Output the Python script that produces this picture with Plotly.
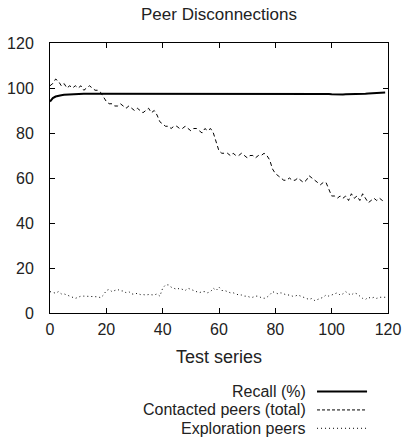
import plotly.graph_objects as go

test_series = list(range(120))

recall = [94.0, 95.5, 96.2, 96.6, 96.8, 97.0, 97.1, 97.2, 97.2, 97.3,
          97.3, 97.3, 97.4, 97.4, 97.4, 97.5, 97.5, 97.5, 97.5, 97.5,
          97.5, 97.5, 97.5, 97.5, 97.5, 97.5, 97.5, 97.5, 97.5, 97.5,
          97.5, 97.5, 97.5, 97.5, 97.5, 97.5, 97.5, 97.5, 97.5, 97.5,
          97.6, 97.6, 97.6, 97.6, 97.6, 97.6, 97.6, 97.6, 97.6, 97.6,
          97.6, 97.6, 97.6, 97.6, 97.6, 97.6, 97.6, 97.6, 97.5, 97.5,
          97.5, 97.5, 97.5, 97.5, 97.5, 97.5, 97.5, 97.5, 97.5, 97.5,
          97.5, 97.5, 97.5, 97.5, 97.5, 97.5, 97.5, 97.5, 97.5, 97.5,
          97.6, 97.6, 97.6, 97.6, 97.6, 97.6, 97.6, 97.6, 97.6, 97.6,
          97.6, 97.6, 97.6, 97.6, 97.6, 97.6, 97.5, 97.5, 97.4, 97.3,
          97.2, 97.1, 97.1, 97.1, 97.1, 97.2, 97.2, 97.2, 97.3, 97.3,
          97.4, 97.5, 97.5, 97.6, 97.7, 97.8, 97.8, 97.9, 98.0, 98.0]

contacted = [101, 102, 104, 103, 101, 102, 100, 101, 100, 101,
             100, 101, 99, 100, 101, 100, 99, 99, 98, 96,
             94, 93, 93, 92, 92, 93, 92, 91, 92, 91,
             90, 91, 90, 89, 90, 91, 89, 90, 88, 85,
             84, 83, 83, 82, 83, 83, 82, 82, 83, 82,
             81, 82, 82, 81, 80, 82, 81, 82, 80, 76,
             72, 71, 71, 71, 70, 71, 70, 70, 71, 70,
             69, 70, 70, 69, 70, 70, 71, 70, 68, 64,
             62, 61, 60, 59, 59, 60, 59, 59, 60, 59,
             58, 59, 61, 60, 59, 58, 57, 58, 58, 55,
             52, 52, 51, 52, 51, 52, 50, 53, 51, 52,
             50, 53, 51, 49, 50, 51, 50, 51, 50, 50]

exploration = [9.5, 9.0, 8.8, 9.5, 8.5, 8.5, 8.0, 7.5, 7.0, 6.5,
               7.0, 7.5, 7.5, 7.5, 7.5, 7.2, 7.5, 7.2, 6.8, 8.0,
               10.0, 10.5, 9.5, 10.0, 10.5, 9.8, 9.8, 9.0, 9.5, 8.5,
               8.3, 8.8, 8.2, 8.2, 8.0, 8.2, 8.0, 8.0, 8.5, 7.5,
               11.0, 12.5, 12.5, 11.5, 11.0, 10.5, 11.0, 10.5, 10.0, 11.0,
               10.5, 10.0, 9.5, 9.0, 9.5, 9.5, 9.0, 9.5, 11.0, 10.0,
               11.5, 10.0, 10.0, 9.5, 9.0, 9.0, 8.5, 8.0, 8.0, 7.5,
               7.5, 7.0, 7.0, 7.5, 7.5, 6.8, 6.5, 7.0, 8.0, 9.5,
               9.0, 8.5, 9.0, 8.5, 8.0, 8.0, 7.5, 7.5, 8.0, 7.5,
               7.0, 6.5, 6.0, 6.5, 5.5, 6.0, 6.5, 7.0, 8.0, 7.5,
               8.0, 8.5, 9.0, 8.0, 8.5, 9.5, 8.5, 8.0, 9.0, 8.5,
               7.5, 6.5, 6.0, 7.0, 6.5, 7.0, 6.5, 7.0, 7.0, 7.0]

series_names = ["Recall (%)", "Contacted peers (total)", "Exploration peers"]
tick_vals = [0, 20, 40, 60, 80, 100, 120]

FONT = "Liberation Sans, Arial, sans-serif"
TXT = "#222"
styles = [dict(width=2, dash="solid"), dict(width=1, dash="4px,3px"), dict(width=1, dash="1px,3px")]
legend_dash = ["solid", "3px,2px", "1px,3px"]

fig = go.Figure()
for name, ys, st in zip(series_names, [recall, contacted, exploration], styles):
    fig.add_trace(go.Scatter(x=test_series, y=ys, mode="lines", name=name,
                             line=dict(color="black", width=st["width"], dash=st["dash"]),
                             showlegend=False, hoverinfo="skip"))

axis_common = dict(range=[0, 120], tickvals=tick_vals, ticks="inside", ticklen=5,
                   tickcolor="black", showline=True, linecolor="black", linewidth=1,
                   mirror="ticks", showgrid=False, zeroline=False, automargin=False,
                   tickfont=dict(family=FONT, size=16, color=TXT))

fig.update_layout(
    template="none",
    width=406, height=439,
    margin=dict(l=50, r=18, t=43, b=126, autoexpand=False),
    paper_bgcolor="white", plot_bgcolor="white",
    title=dict(text="Peer Disconnections", x=(50 + 388) / 2 / 406, xanchor="center",
               y=1 - 14 / 439, yanchor="middle",
               font=dict(family=FONT, size=17, color=TXT)),
    xaxis=dict(axis_common, ticklabelstandoff=2,
               title=dict(text="Test series", standoff=13,
                          font=dict(family=FONT, size=18, color=TXT))),
    yaxis=dict(axis_common, ticklabelstandoff=12),
)

leg_y = [-0.291, -0.359, -0.427]
for name, st, ld, yy in zip(series_names, styles, legend_dash, leg_y):
    fig.add_annotation(xref="paper", yref="paper", x=0.760, y=yy, text=name,
                       showarrow=False, xanchor="right", yanchor="middle", borderpad=0,
                       font=dict(family=FONT, size=16, color=TXT))
    fig.add_shape(type="line", xref="paper", yref="paper", x0=0.790, x1=0.938, y0=yy, y1=yy,
                  line=dict(color="black", width=st["width"], dash=ld))

fig.write_html("out.html", config={"displayModeBar": False},
               post_script="document.body.style.margin='0';document.body.style.overflow='hidden';")
